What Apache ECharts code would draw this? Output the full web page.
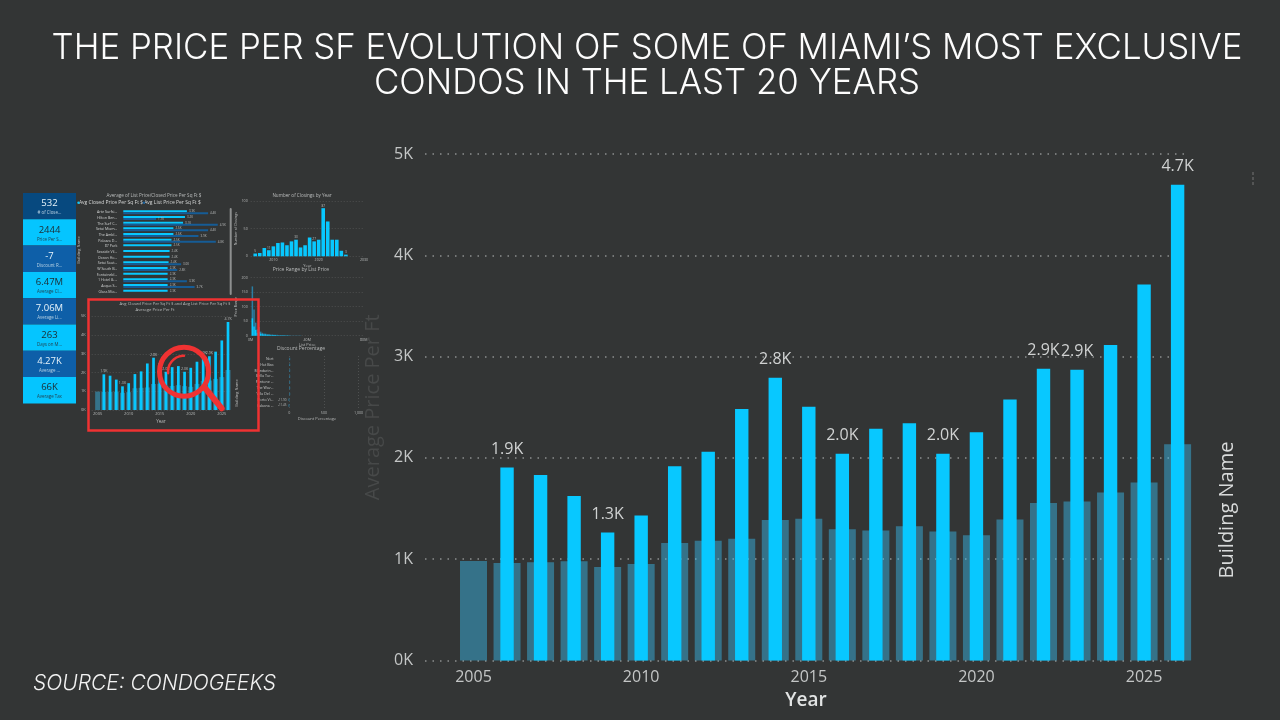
<!DOCTYPE html>
<html>
<head>
<meta charset="utf-8">
<style>html,body{margin:0;padding:0;background:#333535}#c{width:1280px;height:720px}</style>
<script src="https://cdn.jsdelivr.net/npm/echarts@6/dist/echarts.min.js"></script>
</head>
<body>
<div id="c"></div>
<script>
// ---- main chart data
const years = [2005,2006,2007,2008,2009,2010,2011,2012,2013,2014,2015,2016,2017,2018,2019,2020,2021,2022,2023,2024,2025,2026];
const brightValues = [null,1904,1831,1623,1263,1431,1917,2060,2483,2790,2506,2040,2287,2342,2040,2253,2576,2880,2870,3114,3712,4696];
const mutedValues = [982,962,969,979,922,952,1160,1183,1203,1388,1400,1295,1284,1325,1273,1236,1392,1555,1570,1659,1756,2134];
const labelledYears = [2006,2009,2014,2016,2019,2022,2023,2026];
const xTicks = [2005,2010,2015,2020,2025];
// ---- thumbnail: KPI tiles
const kpiValues = ['532','2444','-7','6.47M','7.06M','263','4.27K','66K'];
const kpiNames = ['# of Close...','Price Per S...','Discount R...','Average Cl...','Average Li...','Days on M...','Average ...','Average Tax'];
// ---- thumbnail: horizontal bars
const buildings = ['Arte Surfsi...','Hilton Ben...','The Surf C...','Setai Miam...','The Ambl...','Palazzo D...','87 Park','Seaside Vil...','Ocean Ho...','Setai Sout...','W South B...','Fontainebl...','1 Hotel & ...','Acqua S...','Glass Mia...'];
const closedByBuilding = [3300,3200,3100,2600,2600,2500,2500,2400,2400,2350,2300,2300,2300,2300,2300];
const listByBuilding = [4400,1700,4900,4400,3900,4800,null,null,null,3000,2800,null,3300,3700,null];
// ---- thumbnail: closings per year
const closingYears = [2006,2007,2008,2009,2010,2011,2012,2013,2014,2015,2016,2017,2018,2019,2020,2021,2022,2023,2024,2025,2026];
const closings = [5,6,15,11,18,24,25,20,27,30,16,20,34,27,30,87,63,30,30,10,3];
const closingLabelled = [2006,2009,2015,2019,2021,2026];
// ---- thumbnail: price range
const rangeBins = [1,2,3,4,5,6,7,8,9,10,11,12,13,14,15,16,17,18,19,20,21,22,23,24,25,26,27,28,29,30];
const rangeTotals = [170,90,45,22,30,14,10,8,7,5,5,4,4,3,3,3,2,2,2,2,1,1,1,1,1,1,1,1,1,1];
const rangeBright = [60,32,20,10,14,7,5,4,4,3,3,2,2,2,2,1,1,1,1,1,1,1,1,0,0,0,0,0,0,0];
// ---- thumbnail: discount
const discountNames = ['Nort','1 Hot Bea','Mandarin...','Bella Tor...','Pantone ...','The Wav...','Villa Del ...','Porto Vi...','Cabana ...'];
const discountValues = [12,12,12,12,12,12,12,-11.9,-11.45];

const bg = '#333535', bright = '#08c8ff', muted = 'rgba(58,200,255,0.42)', ff = '"Open Sans"';
const thumbText = '#b9bbbb';
const pairs = (xs, vs) => xs.map((x, i) => [x, vs[i]]);
const thumbSplit = {show:true, lineStyle:{color:'#6a6c6c', type:[1,2], width:0.5}};

function kLabel(v){ return (v/1000).toFixed(1)+'K'; }

const graphic = [];
function txt(x,y,text,size,fill,extra){
  graphic.push(Object.assign({type:'text',x,y,silent:true,style:{text,fontSize:size,fontFamily:ff,fill,align:'center',verticalAlign:'middle'}},extra||{}));
}
// KPI tiles
const tileColors = ['#07497f','#05c5ff','#0e5fa8','#05c5ff','#0e5fa8','#05c5ff','#0e5fa8','#05c5ff'];
kpiValues.forEach((v,i)=>{
  const top = 193 + i*26.3, isBright = i%2===1;
  graphic.push({type:'rect',silent:true,shape:{x:23,y:top,width:53,height:26.3},style:{fill:tileColors[i]}});
  txt(49.5,top+10.5,v,9.5,isBright?'#1e2a30':'#e8f4fa');
  txt(49.5,top+20,kpiNames[i],4.4,isBright?'#24424f':'#b9d3e4');
});
// thumbnail captions
txt(154,195.7,'Average of List Price/Closed Price Per Sq Ft $',4.6,thumbText);
txt(111,202.7,'Avg Closed Price Per Sq Ft $',5,'#d5d7d7');
txt(172.5,202.7,'Avg List Price Per Sq Ft $',5,'#d5d7d7');
graphic.push({type:'circle',silent:true,shape:{cx:78.5,cy:202.7,r:1.2},style:{fill:bright}});
graphic.push({type:'circle',silent:true,shape:{cx:144,cy:202.7,r:1.2},style:{fill:'#165c96'}});
txt(302,195.7,'Number of Closings by Year',4.6,thumbText);
txt(301,270,'Price Range by List Price',5,thumbText);
txt(301,349,'Discount Percentage',5,thumbText);
txt(175,304,'Avg Closed Price Per Sq Ft $ and Avg List Price Per Sq Ft $',4.2,thumbText);
txt(155,309.5,'Average Price Per Ft',4.2,thumbText);
txt(79,250,'Building Name',4,thumbText,{rotation:Math.PI/2});
txt(236.7,393,'Building Name',4,thumbText,{rotation:Math.PI/2});
// scrollbar
graphic.push({type:'rect',silent:true,shape:{x:229.7,y:208,width:2,height:87,r:1},style:{fill:'#8e9090'}});
// red frame and magnifier
graphic.push({type:'rect',silent:true,z:50,shape:{x:88.5,y:299.5,width:170,height:131},style:{fill:'none',stroke:'#f03232',lineWidth:2.5}});
graphic.push({type:'circle',silent:true,z:50,shape:{cx:184,cy:371.7,r:24.5},style:{fill:'none',stroke:'#f03232',lineWidth:5}});
graphic.push({type:'arc',silent:true,z:50,shape:{cx:184,cy:371.7,r:16,startAngle:Math.PI*0.97,endAngle:Math.PI*1.5},style:{fill:'none',stroke:'#f03232',lineWidth:2.5,lineCap:'round'}});
graphic.push({type:'line',silent:true,z:50,shape:{x1:205,y1:388,x2:221.7,y2:408.3},style:{stroke:'#f03232',lineWidth:6,lineCap:'round'}});
// main-figure side text
const titleStyle = {fontSize:34.8,fontFamily:'Inter',fontWeight:300,fill:'#fdfdfd',align:'center',verticalAlign:'middle'};
graphic.push({type:'text',silent:true,x:647,y:49,style:Object.assign({text:'THE PRICE PER SF EVOLUTION OF SOME OF MIAMI’S MOST EXCLUSIVE'},titleStyle)});
graphic.push({type:'text',silent:true,x:647,y:84,style:Object.assign({text:'CONDOS IN THE LAST 20 YEARS'},titleStyle)});
graphic.push({type:'text',silent:true,x:33,y:684,style:{text:'SOURCE: CONDOGEEKS',fontSize:21,fontFamily:'Inter',fontStyle:'italic',fontWeight:300,fill:'#f2f2f2',align:'left',verticalAlign:'middle'}});
txt(1227,510,'Building Name',20,'#d8dada',{rotation:Math.PI/2});
graphic.push({type:'line',silent:true,shape:{x1:1253,y1:172,x2:1253,y2:187},style:{stroke:'#777',lineWidth:1,lineDash:[3,2]}});

const noBounds = {outerBoundsMode:'none'};
const grid = [
  {left:425,right:93,top:154,bottom:59.5},          // 0 main
  {left:91.7,width:138.3,top:316.3,height:93.7},    // 1 mini copy
  {left:123.3,width:106,top:209.5,height:85},       // 2 building bars
  {left:250.7,width:113.3,top:201,height:55.3},     // 3 closings
  {left:250.7,width:113,top:277.7,height:58},       // 4 price range
  {left:275.5,width:83,top:356,height:52.5}         // 5 discount
].map(g=>Object.assign(g,noBounds));
const axisMain = {min:2003.553,max:2026.28};
const axisMini = {min:2004.04,max:2026.32};
const xAxis = [
  Object.assign({type:'value',gridIndex:0,name:'Year',nameLocation:'middle',nameGap:31,
    nameTextStyle:{color:'#e2e4e4',fontSize:19,fontFamily:ff,fontWeight:600},
    axisLine:{show:false},axisTick:{show:false},splitLine:{show:false},
    axisLabel:{customValues:xTicks,color:'#c4c6c6',fontSize:16,fontFamily:ff,margin:9,formatter:v=>String(v)}},axisMain),
  Object.assign({type:'value',gridIndex:0,show:false,splitLine:{show:false}},axisMain),
  Object.assign({type:'value',gridIndex:1,name:'Year',nameLocation:'middle',nameGap:9,
    nameTextStyle:{color:thumbText,fontSize:4.5,fontFamily:ff},
    axisLine:{show:false},axisTick:{show:false},splitLine:{show:false},
    axisLabel:{customValues:xTicks,color:thumbText,fontSize:4,fontFamily:ff,margin:2,formatter:v=>String(v)}},axisMini),
  Object.assign({type:'value',gridIndex:1,show:false,splitLine:{show:false}},axisMini),
  {type:'value',gridIndex:2,min:0,max:5500,show:false,splitLine:{show:false}},
  {type:'value',gridIndex:3,min:2005,max:2030,name:'Year',nameLocation:'middle',nameGap:8,
    nameTextStyle:{color:thumbText,fontSize:4,fontFamily:ff},
    axisLine:{show:false},axisTick:{show:false},splitLine:{show:false},
    axisLabel:{customValues:[2010,2020,2030],color:thumbText,fontSize:3.6,fontFamily:ff,margin:2,formatter:v=>String(v)}},
  {type:'value',gridIndex:4,min:0,max:68,name:'List Price',nameLocation:'middle',nameGap:7,
    nameTextStyle:{color:thumbText,fontSize:4,fontFamily:ff},
    axisLine:{show:false},axisTick:{show:false},splitLine:{show:false},
    axisLabel:{customValues:[0,34,68],color:thumbText,fontSize:3.6,fontFamily:ff,margin:2,formatter:v=>v===0?'0M':(v===34?'40M':'80M')}},
  {type:'value',gridIndex:5,min:-200,max:1000,name:'Discount Percentage',nameLocation:'middle',nameGap:8,
    nameTextStyle:{color:thumbText,fontSize:4,fontFamily:ff},
    axisLine:{show:false},axisTick:{show:false,customValues:[0,500,1000]},splitLine:thumbSplit,
    axisLabel:{customValues:[0,500,1000],color:thumbText,fontSize:3.6,fontFamily:ff,margin:2}}
];
const yAxis = [
  {type:'value',gridIndex:0,min:0,max:5000,interval:1000,name:'Average Price Per Ft',nameLocation:'middle',nameGap:36,
    nameTextStyle:{color:'#474949',fontSize:20,fontFamily:ff,fontWeight:500},
    axisLine:{show:false},axisTick:{show:false},
    splitLine:{lineStyle:{color:'#8d8f8f',type:[1.5,6],width:1.5}},
    axisLabel:{color:'#c4c6c6',fontSize:16,fontFamily:ff,margin:12,formatter:v=>v/1000+'K'}},
  {type:'value',gridIndex:1,min:0,max:5000,interval:1000,
    axisLine:{show:false},axisTick:{show:false},splitLine:thumbSplit,
    axisLabel:{color:thumbText,fontSize:4,fontFamily:ff,margin:6,formatter:v=>v/1000+'K'}},
  {type:'category',gridIndex:2,inverse:true,data:buildings,
    axisLine:{show:false},axisTick:{show:false},splitLine:{show:false},
    axisLabel:{color:'#d0d2d2',fontSize:3.6,fontFamily:ff,margin:6,interval:0}},
  {type:'value',gridIndex:3,min:0,max:100,interval:50,name:'Number of Closings',nameLocation:'middle',nameGap:11,
    nameTextStyle:{color:thumbText,fontSize:3.6,fontFamily:ff},
    axisLine:{show:false},axisTick:{show:false},splitLine:thumbSplit,
    axisLabel:{color:thumbText,fontSize:3.6,fontFamily:ff,margin:3}},
  {type:'value',gridIndex:4,min:0,max:200,interval:50,name:'Price Range',nameLocation:'middle',nameGap:10,
    nameTextStyle:{color:thumbText,fontSize:3.6,fontFamily:ff},
    axisLine:{show:false},axisTick:{show:false},splitLine:thumbSplit,
    axisLabel:{color:thumbText,fontSize:3.6,fontFamily:ff,margin:3}},
  {type:'category',gridIndex:5,inverse:true,data:discountNames,
    axisLine:{show:false},axisTick:{show:false},splitLine:{show:false},
    axisLabel:{color:'#c8caca',fontSize:3.6,fontFamily:ff,margin:2,interval:0}}
];
const labelled = (years,list,fmt,size,color,dist) => ({
  show:true,position:'top',distance:dist,color,fontSize:size,fontFamily:ff,
  formatter:p=>list.includes(p.value[0])?fmt(p.value[1]):''
});
const series = [
  {name:'Avg List Price Per Sq Ft $',type:'bar',xAxisIndex:1,yAxisIndex:0,barWidth:27,clip:false,z:2,
    itemStyle:{color:muted},data:pairs(years,mutedValues)},
  {name:'Avg Closed Price Per Sq Ft $',type:'bar',xAxisIndex:0,yAxisIndex:0,barWidth:13.4,clip:false,z:3,
    itemStyle:{color:bright},label:labelled(years,labelledYears,kLabel,16,'#d0d2d2',10),data:pairs(years,brightValues)},
  {type:'bar',xAxisIndex:3,yAxisIndex:1,barWidth:5,clip:false,z:2,itemStyle:{color:muted},data:pairs(years,mutedValues)},
  {type:'bar',xAxisIndex:2,yAxisIndex:1,barWidth:2.7,clip:false,z:3,itemStyle:{color:bright},
    label:labelled(years,labelledYears,kLabel,3.6,thumbText,1),data:pairs(years,brightValues)},
  {type:'bar',xAxisIndex:4,yAxisIndex:2,barWidth:2,barGap:'0%',itemStyle:{color:bright},
    label:{show:true,position:'right',distance:2,color:thumbText,fontSize:3,fontFamily:ff,formatter:p=>kLabel(p.value)},data:closedByBuilding},
  {type:'bar',xAxisIndex:4,yAxisIndex:2,barWidth:2,itemStyle:{color:'#165c96'},
    label:{show:true,position:'right',distance:2,color:thumbText,fontSize:3,fontFamily:ff,formatter:p=>p.value==null?'':kLabel(p.value)},data:listByBuilding},
  {type:'bar',xAxisIndex:5,yAxisIndex:3,barWidth:3.6,itemStyle:{color:bright},
    label:labelled(closingYears,closingLabelled,v=>String(v),3.2,thumbText,1),data:pairs(closingYears,closings)},
  {type:'bar',xAxisIndex:6,yAxisIndex:4,barWidth:1.5,z:2,itemStyle:{color:'#2a7ea3'},data:pairs(rangeBins,rangeTotals)},
  {type:'bar',xAxisIndex:6,yAxisIndex:4,barWidth:1.5,z:3,barGap:'-100%',itemStyle:{color:bright},data:pairs(rangeBins,rangeBright)},
  {type:'bar',xAxisIndex:7,yAxisIndex:5,barWidth:2.5,itemStyle:{color:'#2a7ea3'},
    label:{show:true,position:'left',distance:2,color:thumbText,fontSize:3,fontFamily:ff,formatter:p=>p.value<0?p.value.toFixed(2):''},data:discountValues}
];
const chart = echarts.init(document.getElementById('c'),null,{width:1280,height:720,renderer:'canvas'});
chart.setOption({backgroundColor:bg,animation:false,grid,xAxis,yAxis,series,graphic});
</script>
</body>
</html>
